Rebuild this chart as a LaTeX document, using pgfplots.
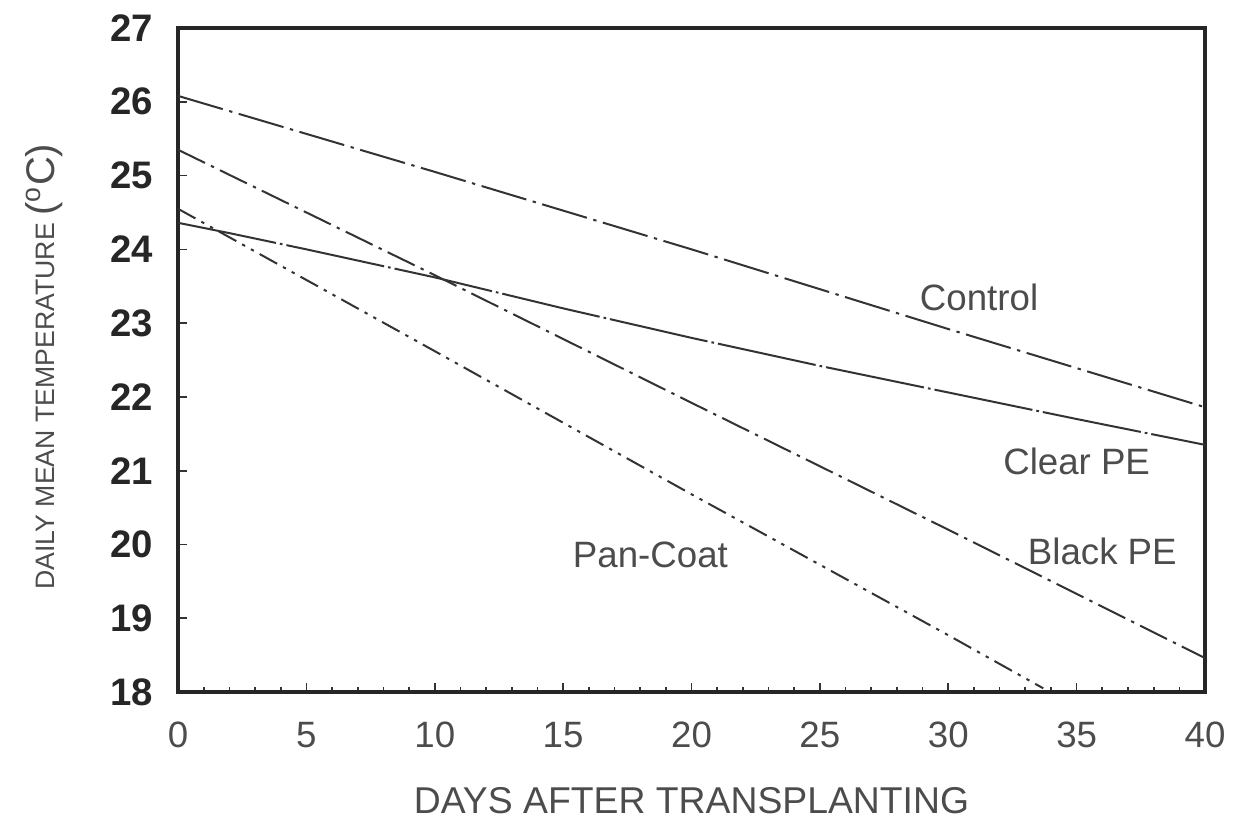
\documentclass[border=0pt]{standalone}
\usepackage{fontspec}
\setmainfont{Liberation Sans}
\usepackage{pgfplots}
\pgfplotsset{compat=1.18}
\begin{document}
\begin{tikzpicture}
\useasboundingbox (-53.4pt,-41.4pt) rectangle (317.4pt,207.6pt);
\begin{axis}[
  scale only axis,
  width=308.1pt, height=199.2pt,
  xmin=0, xmax=40, ymin=18, ymax=27,
  xtick={0,5,...,40}, ytick={18,19,...,27},
  minor x tick num=4,
  tick align=inside,
  xtick pos=bottom, ytick pos=left,
  major tick length=2.6pt, minor tick length=1.6pt,
  axis line style={line width=1pt, black!85},
  every tick/.style={black!80, line width=0.5pt},
  /pgf/number format/assume math mode=true,
  yticklabel style={font=\fontsize{11.5}{12}\selectfont\bfseries, text=black!85, xshift=-4pt},
  xticklabel style={font=\fontsize{11}{12}\selectfont, text=black!70, text height=8pt, text depth=0pt, yshift=-5pt},
  xlabel={DAYS AFTER TRANSPLANTING},
  xlabel style={font=\fontsize{11.2}{12}\selectfont, text=black!70, at={(axis description cs:0.5,-0.163)}, anchor=center},
  ylabel={{\fontsize{8}{9}\selectfont DAILY MEAN TEMPERATURE }{\fontsize{12}{14}\selectfont ($^{\mathrm{o}}$C)}},
  ylabel style={text=black!70, at={(axis description cs:-0.13,0.49)}, anchor=center},
]
% Control
\addplot[black!80, line width=0.6pt, dash pattern={on 14pt off 2pt on 1pt off 2pt}] coordinates {
 (0,26.08) (10,25.05) (20,24.0) (30,22.92) (40,21.86)};
% Clear PE
\addplot[black!80, line width=0.6pt, dash pattern={on 30pt off 1.2pt on 0.8pt off 1.2pt}] coordinates {
 (0,24.36) (2,24.22) (5,24.0) (10,23.62) (15,23.2) (20,22.8) (25,22.42) (30,22.06) (35,21.7) (40,21.35)};
% Black PE
\addplot[black!80, line width=0.6pt, dash pattern={on 9pt off 2pt on 1pt off 2pt}] coordinates {
 (0,25.35) (10,23.65) (20,21.92) (30,20.2) (40,18.46)};
% Pan-Coat
\addplot[black!80, line width=0.6pt, dash pattern={on 6pt off 2pt on 1pt off 2pt on 1pt off 2pt}] coordinates {
 (0,24.55) (10,22.62) (20,20.68) (30,18.77) (33.7,18.05)};
\node[font=\fontsize{11}{12}\selectfont, text=black!70] at (axis cs:31.2,23.35) {Control};
\node[font=\fontsize{11}{12}\selectfont, text=black!70] at (axis cs:35.0,21.13) {Clear PE};
\node[font=\fontsize{11}{12}\selectfont, text=black!70] at (axis cs:36.0,19.91) {Black PE};
\node[font=\fontsize{11}{12}\selectfont, text=black!70] at (axis cs:18.4,19.86) {Pan-Coat};
\end{axis}
\end{tikzpicture}
\end{document}
